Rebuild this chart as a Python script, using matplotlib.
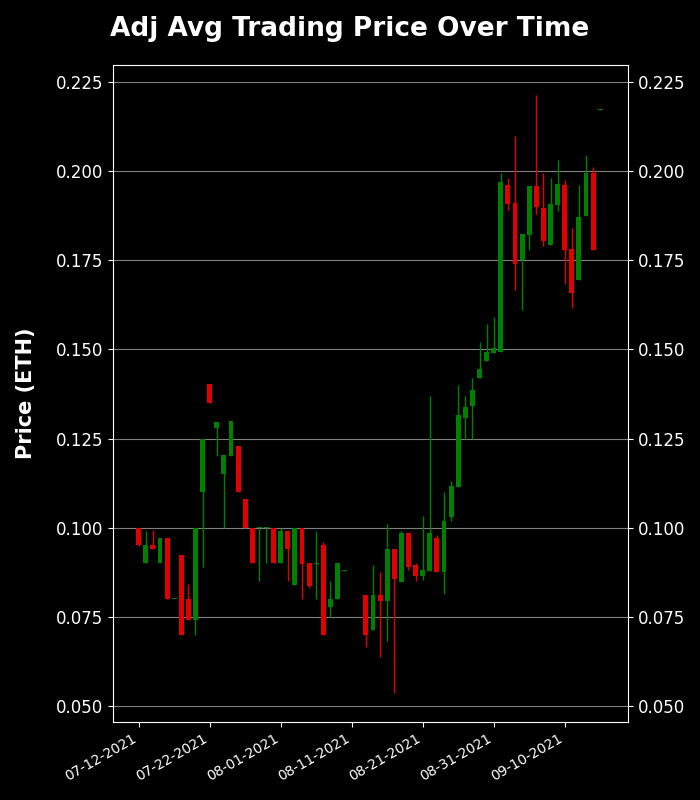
import numpy as np
import pandas as pd
import matplotlib
matplotlib.use("Agg")
import matplotlib.pyplot as plt
import matplotlib.dates as mdates

#  DATA (daily OHLC, NaN = no trades)
dates = pd.date_range("2021-07-12", periods=66, freq="D")
opens = [0.0999, 0.0900, 0.0950, 0.0900, 0.0972, 0.0800, 0.0922, 0.0801, 0.0740, 0.1100,
         0.1403, 0.1280, 0.1150, 0.1200, 0.1230, 0.1080, 0.0998, 0.0998, 0.0999, 0.0998,
         0.0900, 0.0991, 0.0840, 0.0999, 0.0900, 0.0899, 0.0950, 0.0777, 0.0800, 0.0879,
         np.nan, np.nan, 0.0810, 0.0712, 0.0812, 0.0793, 0.0939, 0.0847, 0.0985, 0.0894,
         0.0864, 0.0878, 0.0970, 0.0875, 0.1030, 0.1114, 0.1308, 0.1342, 0.1420, 0.1467,
         0.1490, 0.1494, 0.1960, 0.1911, 0.1751, 0.1821, 0.1958, 0.1897, 0.1794, 0.1906,
         0.1960, 0.1782, 0.1694, 0.1875, 0.1994, 0.2172]
highs = [0.1000, 0.0991, 0.0994, 0.0972, 0.0972, 0.0801, 0.0922, 0.0841, 0.1000, 0.1250,
         0.1403, 0.1296, 0.1203, 0.1300, 0.1230, 0.1080, 0.0998, 0.1000, 0.1000, 0.0998,
         0.1000, 0.0991, 0.1000, 0.0999, 0.0900, 0.0991, 0.0960, 0.0850, 0.0900, 0.0880,
         np.nan, np.nan, 0.0810, 0.0894, 0.0877, 0.1009, 0.0939, 0.0990, 0.0985, 0.0902,
         0.1034, 0.1370, 0.0980, 0.1100, 0.1130, 0.1400, 0.1370, 0.1420, 0.1520, 0.1570,
         0.1590, 0.1994, 0.1980, 0.2097, 0.1824, 0.1958, 0.2212, 0.1994, 0.1980, 0.2030,
         0.1975, 0.1841, 0.1960, 0.2045, 0.2010, 0.2174]
lows = [0.0949, 0.0900, 0.0940, 0.0900, 0.0800, 0.0800, 0.0699, 0.0740, 0.0699, 0.0890,
        0.1350, 0.1200, 0.1000, 0.1200, 0.1100, 0.1000, 0.0900, 0.0850, 0.0900, 0.0900,
        0.0900, 0.0850, 0.0840, 0.0800, 0.0830, 0.0800, 0.0699, 0.0750, 0.0800, 0.0878,
        np.nan, np.nan, 0.0665, 0.0712, 0.0638, 0.0683, 0.0535, 0.0847, 0.0880, 0.0850,
        0.0852, 0.0878, 0.0875, 0.0813, 0.1020, 0.1114, 0.1250, 0.1250, 0.1420, 0.1467,
        0.1490, 0.1494, 0.1890, 0.1666, 0.1610, 0.1780, 0.1880, 0.1790, 0.1794, 0.1889,
        0.1682, 0.1615, 0.1694, 0.1875, 0.1780, 0.2172]
closes = [0.0950, 0.0950, 0.0940, 0.0972, 0.0800, 0.0801, 0.0699, 0.0740, 0.0999, 0.1250,
          0.1350, 0.1296, 0.1203, 0.1300, 0.1100, 0.1000, 0.0900, 0.0999, 0.1000, 0.0900,
          0.0991, 0.0940, 0.0999, 0.0898, 0.0836, 0.0900, 0.0699, 0.0800, 0.0900, 0.0880,
          np.nan, np.nan, 0.0699, 0.0812, 0.0793, 0.0939, 0.0855, 0.0986, 0.0890, 0.0864,
          0.0880, 0.0986, 0.0875, 0.1020, 0.1116, 0.1316, 0.1338, 0.1386, 0.1445, 0.1494,
          0.1505, 0.1969, 0.1909, 0.1738, 0.1824, 0.1958, 0.1900, 0.1805, 0.1908, 0.1964,
          0.1780, 0.1657, 0.1871, 0.1994, 0.1780, 0.2174]

df = pd.DataFrame({"open": opens, "high": highs, "low": lows, "close": closes}, index=dates).dropna()

#  PLOT
fig = plt.figure(figsize=(7, 8), dpi=100, facecolor="black")
ax = fig.add_axes([0.161, 0.0975, 0.736, 0.8215], facecolor="black")

x = mdates.date2num(df.index.to_pydatetime())
up = df["close"] >= df["open"]
colors = np.where(up, "green", "#e00000")
body_bottom = np.minimum(df["open"], df["close"])
body_h = np.maximum(np.abs(df["close"] - df["open"]), 0.0003)

ax.vlines(x, df["low"], df["high"], colors=colors, linewidth=1, zorder=2)
ax.bar(x, body_h, bottom=body_bottom, width=0.7, color=colors, zorder=3)

ax.set_ylim(0.0455, 0.2298)
ax.set_xlim(mdates.date2num(pd.Timestamp("2021-07-12")) - 3.66,
            mdates.date2num(pd.Timestamp("2021-07-12")) + 68.9)
ax.set_yticks([0.05, 0.075, 0.1, 0.125, 0.15, 0.175, 0.2, 0.225])
ax.yaxis.set_major_formatter(matplotlib.ticker.FormatStrFormatter("%.3f"))
ax.set_xticks(mdates.date2num(pd.date_range("2021-07-12", periods=7, freq="10D").to_pydatetime()))
ax.xaxis.set_major_formatter(mdates.DateFormatter("%m-%d-%Y"))
plt.setp(ax.get_xticklabels(), rotation=30, ha="right")

ax.grid(axis="y", color="gray", linewidth=0.8, zorder=0)
ax.set_axisbelow(True)
ax.tick_params(colors="white", labelsize=12, right=True, labelright=True)
ax.tick_params(axis="x", labelsize=10)
for s in ax.spines.values():
    s.set_color("white")

ax.set_ylabel("Price (ETH)", color="white", fontsize=15, fontweight="bold", labelpad=14)
fig.suptitle("Adj Avg Trading Price Over Time", color="white", fontsize=19, fontweight="bold", y=0.98)

plt.savefig("out.png", dpi=100, facecolor="black")
